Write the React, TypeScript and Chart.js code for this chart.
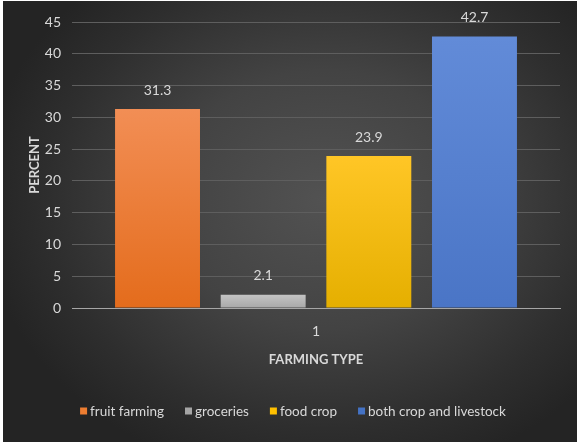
import { useEffect, useRef } from "react";
import { Chart, registerables } from "chart.js";

Chart.register(...registerables);

// Survey results by farming type (single group "1")
const categories = ["1"];
const seriesNames = ["fruit farming", "groceries", "food crop", "both crop and livestock"];
const fruitFarming = [31.3];
const groceries = [2.1];
const foodCrop = [23.9];
const bothCropAndLivestock = [42.7];
const yMax = 45;
const yStep = 5;

const solidColors = ["#ED7D31", "#A5A5A5", "#FFC000", "#4472C4"];
const gradientStops: [string, string][] = [
  ["#F28E55", "#E46C1C"],
  ["#C4C4C4", "#A8A8A8"],
  ["#FFC626", "#E5AF00"],
  ["#628BD8", "#4A75C6"],
];

const FONT = "Lato, 'DejaVu Sans', sans-serif";
const TEXT = "#D9D9D9";

function barFill(index: number) {
  return (ctx: any) => {
    if (ctx.type !== "data") return solidColors[index];
    const chart = ctx.chart;
    const y = chart.scales?.y;
    if (!y || !chart.chartArea) return solidColors[index];
    const top = y.getPixelForValue(ctx.raw);
    const base = y.getPixelForValue(0);
    const g = chart.ctx.createLinearGradient(0, top, 0, base);
    g.addColorStop(0, gradientStops[index][0]);
    g.addColorStop(1, gradientStops[index][1]);
    return g;
  };
}

// Writes each bar's value above it
const valueLabels = {
  id: "valueLabels",
  afterDatasetsDraw(chart: any) {
    const ctx = chart.ctx;
    ctx.save();
    ctx.font = `14px ${FONT}`;
    ctx.fillStyle = TEXT;
    ctx.textAlign = "center";
    ctx.textBaseline = "middle";
    chart.data.datasets.forEach((ds: any, i: number) => {
      const meta = chart.getDatasetMeta(i);
      meta.data.forEach((bar: any, j: number) => {
        ctx.fillText(Number(ds.data[j]).toFixed(1), bar.x, bar.y - 19);
      });
    });
    ctx.restore();
  },
};

// Compact legend row along the bottom: small square swatch, tight text gap
const bottomLegend = {
  id: "bottomLegend",
  afterDraw(chart: any) {
    const ctx = chart.ctx;
    const box = 7;
    const textGap = 3;
    const itemGap = 21;
    const centerX = 290;
    const centerY = 410;
    ctx.save();
    ctx.font = `13.5px ${FONT}`;
    ctx.textBaseline = "middle";
    ctx.textAlign = "left";
    const items = chart.data.datasets.map((ds: any, i: number) => ({
      label: ds.label as string,
      color: solidColors[i],
      w: box + textGap + ctx.measureText(ds.label).width,
    }));
    const total =
      items.reduce((s: number, it: any) => s + it.w, 0) + itemGap * (items.length - 1);
    let x = centerX - total / 2;
    items.forEach((it: any) => {
      ctx.fillStyle = it.color;
      ctx.fillRect(x, centerY - box / 2, box, box);
      ctx.fillStyle = TEXT;
      ctx.fillText(it.label, x + box + textGap, centerY + 1);
      x += it.w + itemGap;
    });
    ctx.restore();
  },
};

export default function App() {
  const canvasRef = useRef<HTMLCanvasElement>(null);

  useEffect(() => {
    if (!canvasRef.current) return;
    const seriesValues = [fruitFarming, groceries, foodCrop, bothCropAndLivestock];
    const chart = new Chart(canvasRef.current, {
      type: "bar",
      data: {
        labels: categories,
        datasets: seriesNames.map((name, i) => ({
          label: name,
          data: seriesValues[i],
          backgroundColor: barFill(i),
          borderWidth: 0,
          categoryPercentage: 0.866,
          barPercentage: 0.804,
        })),
      },
      options: {
        animation: false,
        responsive: false,
        maintainAspectRatio: false,
        layout: { padding: { top: 21, right: 17, bottom: 48, left: 0 } },
        plugins: {
          tooltip: { enabled: false },
          legend: { display: false },
        },
        scales: {
          x: {
            grid: { display: false, drawTicks: false },
            border: { display: true, color: "#A6A6A6", width: 1 },
            ticks: { color: TEXT, font: { family: FONT, size: 14 }, padding: 15 },
            title: {
              display: true,
              text: "FARMING TYPE",
              color: TEXT,
              font: { family: FONT, size: 13, weight: "bold" },
              padding: { top: 12, bottom: 26 },
            },
            afterFit: (scale: any) => {
              scale.height = 86;
            },
          },
          y: {
            min: 0,
            max: yMax,
            grid: { color: "#5E5E5E", drawTicks: false },
            border: { display: false },
            ticks: {
              stepSize: yStep,
              color: TEXT,
              font: { family: FONT, size: 14 },
              padding: 11,
            },
            title: {
              display: true,
              text: "PERCENT",
              color: TEXT,
              font: { family: FONT, size: 13, weight: "bold" },
              padding: { top: 24, bottom: 0 },
            },
            afterFit: (scale: any) => {
              scale.width = 69;
            },
          },
        },
      },
      plugins: [valueLabels, bottomLegend],
    });
    return () => chart.destroy();
  }, []);

  return (
    <div
      style={{
        position: "absolute",
        left: 3,
        top: 1,
        width: 574,
        height: 441,
        background:
          "radial-gradient(ellipse 60% 65% at 56% 45%, #525252 0%, #434343 45%, #2e2e2e 80%, #242424 100%)",
      }}
    >
      <canvas ref={canvasRef} width={574} height={441} />
    </div>
  );
}
